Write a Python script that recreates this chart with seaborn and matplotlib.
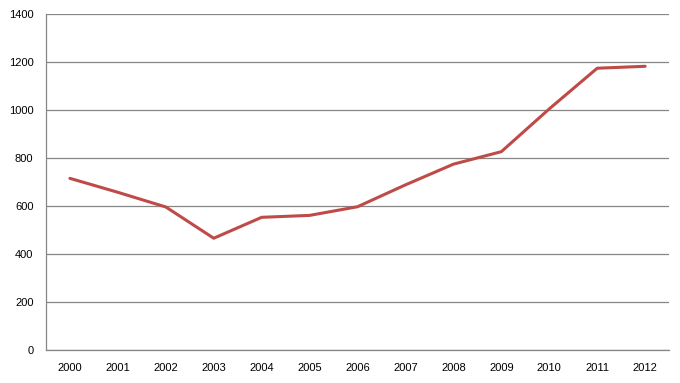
import pandas as pd
import numpy as np
import matplotlib.pyplot as plt
import seaborn as sns
from matplotlib.ticker import FixedLocator

years = ['2000', '2001', '2002', '2003', '2004', '2005', '2006',
         '2007', '2008', '2009', '2010', '2011', '2012']
values = [715, 657, 596, 466, 553, 561, 597, 688, 774, 826, 1004, 1173, 1181]
y_ticks = [0, 200, 400, 600, 800, 1000, 1200, 1400]

df = pd.DataFrame({'year': years, 'value': values})

sns.set_style('white')
plt.rcParams['font.family'] = ['Liberation Sans', 'DejaVu Sans']

fig = plt.figure(figsize=(6.8, 3.83), dpi=100)
ax = fig.add_axes([0.0676, 0.0854, 0.9164, 0.879])

sns.lineplot(data=df, x='year', y='value', ax=ax, color='#BE4B48', linewidth=2.2)

ax.set_xlim(-0.5, len(years) - 0.5)
ax.set_ylim(0, 1400)
ax.set_yticks(y_ticks)
ax.yaxis.grid(True, color='#868686', linewidth=0.9)
ax.set_axisbelow(True)

ax.xaxis.set_minor_locator(FixedLocator(np.arange(-0.5, len(years), 1.0)))
ax.tick_params(axis='x', which='major', length=0, pad=9, labelsize=8, colors='black')
ax.tick_params(axis='x', which='minor', length=5, width=0.9, color='#868686', direction='out')
ax.tick_params(axis='y', which='major', length=5, width=0.9, color='#868686', direction='out',
               labelsize=8, pad=4, labelcolor='black')

for side in ['top', 'right']:
    ax.spines[side].set_visible(False)
for side in ['left', 'bottom']:
    ax.spines[side].set_color('#868686')
    ax.spines[side].set_linewidth(0.9)

ax.set_xlabel('')
ax.set_ylabel('')

fig.savefig('out.png', dpi=100)
